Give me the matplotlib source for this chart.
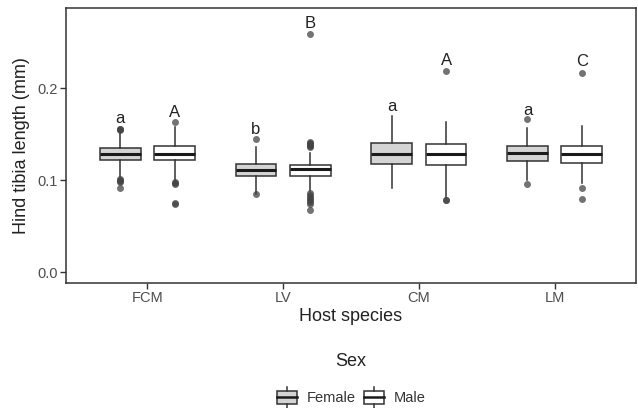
import matplotlib.pyplot as plt
from matplotlib.patches import Rectangle
from matplotlib.lines import Line2D
from matplotlib.legend_handler import HandlerBase

plt.rcParams['font.family'] = ['Liberation Sans', 'DejaVu Sans']

# datos
hosts = ['FCM', 'LV', 'CM', 'LM']
sexes = ['Female', 'Male']

# (whislo, q1, med, q3, whishi) por especie, hembras y machos
female_stats = [(0.1036, 0.1214, 0.1280, 0.1345, 0.1550),
                (0.0845, 0.1047, 0.1110, 0.1180, 0.1360),
                (0.0910, 0.1174, 0.1280, 0.1399, 0.1696),
                (0.1000, 0.1203, 0.1290, 0.1370, 0.1570)]
male_stats = [(0.1000, 0.1214, 0.1286, 0.1370, 0.1580),
              (0.0880, 0.1047, 0.1120, 0.1170, 0.1300),
              (0.0810, 0.1167, 0.1280, 0.1388, 0.1634),
              (0.0970, 0.1190, 0.1283, 0.1370, 0.1590)]
female_out = [[0.155, 0.1555, 0.156, 0.101, 0.100, 0.099, 0.098, 0.092],
              [0.145, 0.0845],
              [],
              [0.166, 0.096]]
male_out = [[0.163, 0.098, 0.097, 0.096, 0.0755, 0.074],
            [0.2594, 0.136, 0.137, 0.138, 0.139, 0.140, 0.142,
             0.086, 0.084, 0.082, 0.080, 0.078, 0.076, 0.074, 0.0675],
            [0.219, 0.078, 0.0785],
            [0.2167, 0.091, 0.080]]
female_letters = ['a', 'b', 'a', 'a']
male_letters = ['A', 'B', 'A', 'C']
female_letter_y = [0.167, 0.155, 0.180, 0.176]
male_letter_y = [0.174, 0.270, 0.230, 0.229]

fill = {'Female': '#d4d4d4', 'Male': 'white'}
edge = '#333333'


def make_bxp(stats, fliers):
    res = []
    for (lo, q1, med, q3, hi), fl in zip(stats, fliers):
        res.append(dict(whislo=lo, q1=q1, med=med, q3=q3, whishi=hi, fliers=fl))
    return res


fig = plt.figure(figsize=(6.38, 4.08), dpi=100)
ax = fig.add_axes([0.1034, 0.306, 0.8936, 0.674])

offset = 0.2
for sex, stats, fliers in [('Female', female_stats, female_out),
                           ('Male', male_stats, male_out)]:
    pos = [i + (-offset if sex == 'Female' else offset) for i in range(len(hosts))]
    ax.bxp(make_bxp(stats, fliers), positions=pos, widths=0.3, patch_artist=True,
           showcaps=False,
           boxprops=dict(facecolor=fill[sex], edgecolor=edge, linewidth=1.1),
           whiskerprops=dict(color=edge, linewidth=1.1),
           medianprops=dict(color='#1a1a1a', linewidth=2.2),
           flierprops=dict(marker='o', markerfacecolor='#444444', markeredgecolor='none',
                           markersize=5, alpha=0.75))

for i in range(len(hosts)):
    ax.text(i - offset, female_letter_y[i], female_letters[i], ha='center', va='center',
            fontsize=12, color='#222222')
    ax.text(i + offset, male_letter_y[i], male_letters[i], ha='center', va='center',
            fontsize=12, color='#222222')

ax.set_xlim(-0.6, 3.6)
ax.set_ylim(-0.012, 0.287)
ax.set_xticks(range(len(hosts)))
ax.set_xticklabels(hosts)
ax.set_yticks([0.0, 0.1, 0.2])
ax.set_yticklabels(['0.0', '0.1', '0.2'])
ax.tick_params(axis='both', length=4, width=1, color='#333333', labelsize=10.5,
               labelcolor='#4d4d4d', pad=2)
for s in ax.spines.values():
    s.set_color('#333333')
    s.set_linewidth(1.1)
ax.set_xlabel('Host species', fontsize=13, color='#222222', labelpad=2)
ax.set_ylabel('Hind tibia length (mm)', fontsize=13, color='#222222', labelpad=5)


class BoxHandler(HandlerBase):
    def create_artists(self, legend, orig_handle, xdescent, ydescent, width, height,
                       fontsize, trans):
        fc = orig_handle.get_facecolor()
        cx = width / 2 - xdescent
        bw = width * 0.9
        r = Rectangle((cx - bw / 2, -ydescent + height * 0.1), bw, height * 0.8,
                      facecolor=fc, edgecolor=edge, linewidth=1.1, transform=trans)
        m = Line2D([cx - bw / 2, cx + bw / 2], [-ydescent + height / 2] * 2,
                   color='#1a1a1a', linewidth=1.8, transform=trans)
        w1 = Line2D([cx, cx], [-ydescent - height * 0.15, -ydescent + height * 0.1],
                    color=edge, linewidth=1.1, transform=trans)
        w2 = Line2D([cx, cx], [-ydescent + height * 0.9, -ydescent + height * 1.15],
                    color=edge, linewidth=1.1, transform=trans)
        return [r, m, w1, w2]


handles = [Rectangle((0, 0), 1, 1, facecolor=fill[s]) for s in sexes]
leg = fig.legend(handles, sexes, handler_map={Rectangle: BoxHandler()},
                 loc='center', bbox_to_anchor=(351 / 638, 1 - 379 / 408), ncol=2,
                 frameon=False, title='Sex', fontsize=10.5, title_fontsize=13,
                 handlelength=1.5, handleheight=1.3, handletextpad=0.6,
                 columnspacing=0.5, borderpad=0.2)
leg.get_title().set_color('#222222')
for t in leg.get_texts():
    t.set_color('#333333')
leg._legend_box.sep = 14

fig.savefig('out.png', dpi=100)
